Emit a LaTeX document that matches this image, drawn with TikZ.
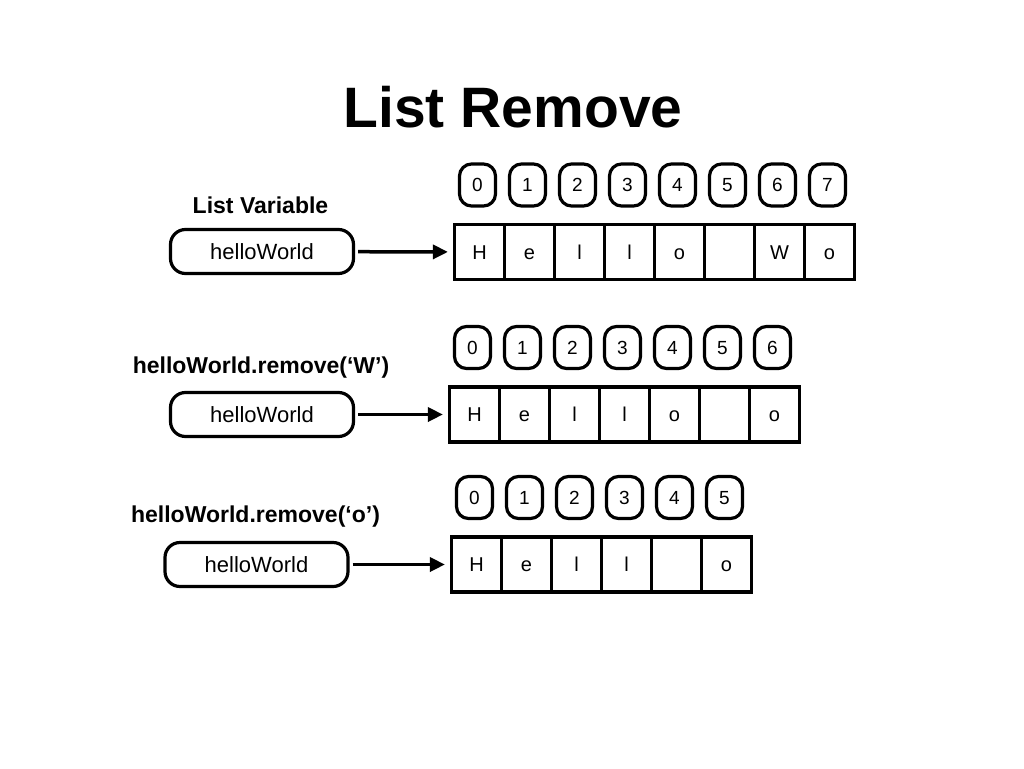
\documentclass[tikz,border=0pt]{standalone}
\usepackage{fontspec}
\setmainfont{Liberation Sans}
\usepackage{tikz}
\usetikzlibrary{arrows.meta}

\begin{document}
\begin{tikzpicture}[x=1pt, y=-1pt,
    cell/.style={draw, line width=3.2pt, minimum width=50pt, minimum height=55pt,
                inner sep=0pt, text height=14.4pt, text depth=0pt,
                font=\fontsize{20}{22}\selectfont},
    idx/.style={draw, line width=3.2pt, rounded corners=12pt, minimum width=36pt,
                minimum height=42pt, inner sep=0pt, text height=13.7pt, text depth=0pt,
                font=\fontsize{19}{21}\selectfont},
    var/.style={draw, line width=3.2pt, rounded corners=15pt, minimum width=183pt,
                minimum height=44pt, inner sep=0pt, text height=15.8pt, text depth=0pt,
                font=\fontsize{22}{24}\selectfont},
    lbl/.style={font=\fontsize{23}{26}\selectfont\bfseries},
    arr/.style={-{Triangle[length=15pt, width=14pt]}, line width=3.5pt,
                shorten <=3pt, shorten >=5pt}
]
\useasboundingbox[fill=white] (0,0) rectangle (1024,768);
\node[font=\fontsize{57}{60}\selectfont\bfseries] (title) at (513,107) {List Remove};
% first list
\node[lbl] (lbl1) at (260.5,205) {List Variable};
\node[var] (var1) at (262,251.5) {helloWorld};
\node[idx] (r1i0) at (477.5,185) {0}; \node[idx] (r1i1) at (527.5,185) {1};
\node[idx] (r1i2) at (577.5,185) {2}; \node[idx] (r1i3) at (627.5,185) {3};
\node[idx] (r1i4) at (677.5,185) {4}; \node[idx] (r1i5) at (727.5,185) {5};
\node[idx] (r1i6) at (777.5,185) {6}; \node[idx] (r1i7) at (827.5,185) {7};
\node[cell] (r1c0) at (479.5,252) {H}; \node[cell] (r1c1) at (529.5,252) {e};
\node[cell] (r1c2) at (579.5,252) {l}; \node[cell] (r1c3) at (629.5,252) {l};
\node[cell] (r1c4) at (679.5,252) {o}; \node[cell] (r1c5) at (729.5,252) {};
\node[cell] (r1c6) at (779.5,252) {W}; \node[cell] (r1c7) at (829.5,252) {o};
\draw[arr] (var1) -- (r1c0);
% after remove('W')
\node[lbl] (lbl2) at (261,368) {helloWorld.remove(‘W’)};
\node[var] (var2) at (262,414.5) {helloWorld};
\node[idx] (r2i0) at (472.5,347.5) {0}; \node[idx] (r2i1) at (522.5,347.5) {1};
\node[idx] (r2i2) at (572.5,347.5) {2}; \node[idx] (r2i3) at (622.5,347.5) {3};
\node[idx] (r2i4) at (672.5,347.5) {4}; \node[idx] (r2i5) at (722.5,347.5) {5};
\node[idx] (r2i6) at (772.5,347.5) {6};
\node[cell] (r2c0) at (474.5,414.5) {H}; \node[cell] (r2c1) at (524.5,414.5) {e};
\node[cell] (r2c2) at (574.5,414.5) {l}; \node[cell] (r2c3) at (624.5,414.5) {l};
\node[cell] (r2c4) at (674.5,414.5) {o}; \node[cell] (r2c5) at (724.5,414.5) {};
\node[cell] (r2c6) at (774.5,414.5) {o};
\draw[arr] (var2) -- (r2c0);
% after remove('o')
\node[lbl] (lbl3) at (255.5,517) {helloWorld.remove(‘o’)};
\node[var] (var3) at (256.5,564.5) {helloWorld};
\node[idx] (r3i0) at (474.5,497.5) {0}; \node[idx] (r3i1) at (524.5,497.5) {1};
\node[idx] (r3i2) at (574.5,497.5) {2}; \node[idx] (r3i3) at (624.5,497.5) {3};
\node[idx] (r3i4) at (674.5,497.5) {4}; \node[idx] (r3i5) at (724.5,497.5) {5};
\node[cell] (r3c0) at (476.5,564.5) {H}; \node[cell] (r3c1) at (526.5,564.5) {e};
\node[cell] (r3c2) at (576.5,564.5) {l}; \node[cell] (r3c3) at (626.5,564.5) {l};
\node[cell] (r3c4) at (676.5,564.5) {}; \node[cell] (r3c5) at (726.5,564.5) {o};
\draw[arr] (var3) -- (r3c0);
\end{tikzpicture}
\end{document}
